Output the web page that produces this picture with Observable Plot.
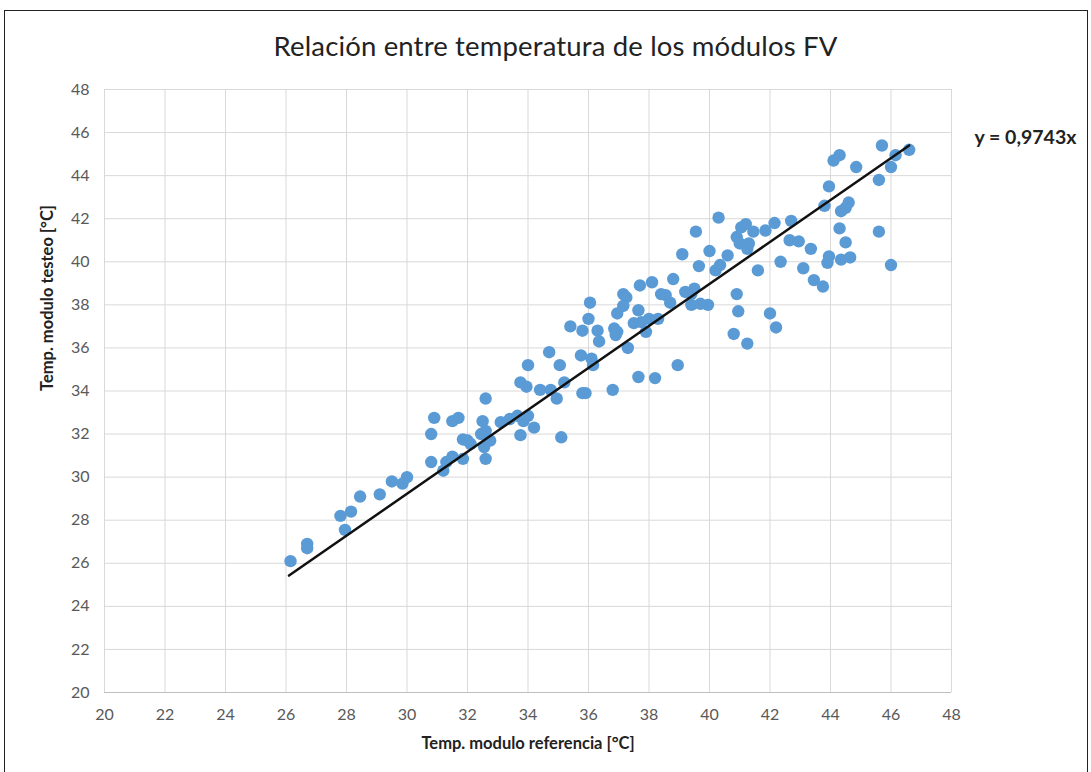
<!DOCTYPE html>
<html>
<head>
<meta charset="utf-8">
<script src="https://cdn.jsdelivr.net/npm/d3@7"></script>
<script src="https://cdn.jsdelivr.net/npm/@observablehq/plot@0.6"></script>
<style>
  html, body { margin: 0; padding: 0; background: #fff; }
  #wrap { position: relative; width: 1091px; height: 772px; overflow: hidden; font-family: Lato, "Open Sans", sans-serif; }
  #frame { position: absolute; left: 4px; top: 10px; width: 1084px; height: 770px; border: 1.5px solid #222; box-sizing: border-box; pointer-events: none; }
  #title { height: 70px; line-height: 92px; text-align: center; font-size: 27.5px; color: #222; padding-left: 20px; box-sizing: border-box; letter-spacing: 0.15px; }
  svg { display: block; }
</style>
</head>
<body>
<div id="wrap">
  <div id="title">Relación entre temperatura de los módulos FV</div>
  <div id="chart"></div>
  <div id="frame"></div>
</div>
<script>
const xRef = [
  26.15, 26.7, 26.7, 27.8, 27.95, 28.15, 28.45, 29.1, 29.5, 29.85, 30.0,
  30.8, 30.9, 30.8, 31.2, 31.3, 31.5, 31.5, 31.7, 31.85, 32.0, 31.85, 32.1,
  32.6, 32.5, 32.6, 32.45, 32.75, 32.55, 32.6, 33.1, 33.4, 33.65, 33.75, 33.95,
  33.75, 33.85, 34.0, 34.2, 34.0, 34.4, 34.75, 34.7, 35.05, 34.95, 35.1, 35.2,
  35.4, 35.8, 35.75, 35.8, 35.9, 36.8, 36.05, 36.0, 36.3, 36.35, 36.1, 36.15,
  36.95, 36.85, 36.95, 36.9, 37.15, 37.25, 37.15, 37.65, 37.7, 37.5, 37.75, 37.9,
  37.3, 37.65, 38.1, 38.0, 38.3, 38.2, 38.4, 38.55, 38.7, 38.8, 38.95, 39.1,
  39.2, 39.4, 39.4, 39.7, 39.95, 39.65, 39.5, 40.3, 39.55, 40.0, 40.6, 40.2,
  40.35, 40.9, 40.95, 40.8, 41.25, 40.9, 41.05, 41.2, 41.0, 41.3, 41.25, 41.45,
  41.6, 41.85, 42.15, 42.0, 42.2, 42.35, 42.7, 42.65, 42.95, 43.35, 43.1, 43.45,
  43.75, 45.7, 46.6, 46.15, 46.0, 45.6, 44.3, 44.1, 44.85, 43.95, 43.8, 44.6,
  44.5, 44.35, 44.3, 45.6, 44.5, 43.95, 43.9, 44.35, 44.65, 46.0
];
const yTest = [
  26.1, 26.9, 26.7, 28.2, 27.55, 28.4, 29.1, 29.2, 29.8, 29.7, 30.0,
  32.0, 32.75, 30.7, 30.3, 30.7, 30.95, 32.6, 32.75, 31.75, 31.7, 30.85, 31.55,
  33.65, 32.6, 32.15, 32.0, 31.7, 31.4, 30.85, 32.55, 32.7, 32.85, 34.4, 34.2,
  31.95, 32.6, 32.85, 32.3, 35.2, 34.05, 34.05, 35.8, 35.2, 33.65, 31.85, 34.4,
  37.0, 36.8, 35.65, 33.9, 33.9, 34.05, 38.1, 37.35, 36.8, 36.3, 35.5, 35.2,
  37.6, 36.9, 36.75, 36.6, 38.5, 38.35, 37.95, 37.75, 38.9, 37.15, 37.2, 36.75,
  36.0, 34.65, 39.05, 37.35, 37.35, 34.6, 38.5, 38.45, 38.1, 39.2, 35.2, 40.35,
  38.6, 38.5, 38.0, 38.05, 38.0, 39.8, 38.75, 42.05, 41.4, 40.5, 40.3, 39.6,
  39.85, 38.5, 37.7, 36.65, 36.2, 41.15, 41.6, 41.75, 40.85, 40.85, 40.6, 41.4,
  39.6, 41.45, 41.8, 37.6, 36.95, 40.0, 41.9, 41.0, 40.95, 40.6, 39.7, 39.15,
  38.85, 45.4, 45.2, 44.95, 44.4, 43.8, 44.95, 44.7, 44.4, 43.5, 42.6, 42.75,
  42.5, 42.35, 41.55, 41.4, 40.9, 40.25, 39.95, 40.1, 40.2, 39.85
];
const trendSlope = 0.9743;
const trendX = [26.1, 46.6];
const equationLabel = "y = 0,9743x";
const xTicks = [20, 22, 24, 26, 28, 30, 32, 34, 36, 38, 40, 42, 44, 46, 48];
const yTicks = [20, 22, 24, 26, 28, 30, 32, 34, 36, 38, 40, 42, 44, 46, 48];
const xLabel = "Temp. modulo referencia [°C]";
const yLabel = "Temp. modulo testeo [°C]";

const points = xRef.map((x, i) => ({x, y: yTest[i]}));
const trend = trendX.map(x => ({x, y: trendSlope * x}));

const chart = Plot.plot({
  width: 1091,
  height: 702,
  marginLeft: 104,
  marginRight: 140,
  marginTop: 19,
  marginBottom: 80,
  style: {fontFamily: "Lato, 'Open Sans', sans-serif", fontSize: "16px", color: "#595959", background: "transparent"},
  x: {domain: [20, 48], ticks: xTicks, label: null},
  y: {domain: [20, 48], ticks: yTicks, label: null},
  marks: [
    Plot.gridX(xTicks, {stroke: "#d9d9d9", strokeOpacity: 1}),
    Plot.gridY(yTicks, {stroke: "#d9d9d9", strokeOpacity: 1}),
    Plot.ruleY([20], {stroke: "#bfbfbf"}),
    Plot.axisX(xTicks, {tickSize: 0, tickPadding: 16, fontSize: 16, fill: "#595959", label: null}),
    Plot.axisY(yTicks, {tickSize: 0, tickPadding: 15, fontSize: 16, fill: "#595959", label: null}),
    Plot.dot(points, {x: "x", y: "y", r: 6.2, fill: "#5b9bd5", stroke: "none"}),
    Plot.line(trend, {x: "x", y: "y", stroke: "#111", strokeWidth: 2.5}),
    Plot.text([equationLabel], {frameAnchor: "top-right", dx: 23, dy: 41, textAnchor: "start", fontWeight: "bold", fontSize: 19.5, fill: "#222"}),
    Plot.text([xLabel], {frameAnchor: "bottom", dy: 56, fontWeight: "bold", fontSize: 16.5, fill: "#222"}),
    Plot.text([yLabel], {frameAnchor: "left", dx: -57, rotate: -90, fontWeight: "bold", fontSize: 16.5, fill: "#222"})
  ]
});
document.getElementById("chart").appendChild(chart);
</script>
</body>
</html>
